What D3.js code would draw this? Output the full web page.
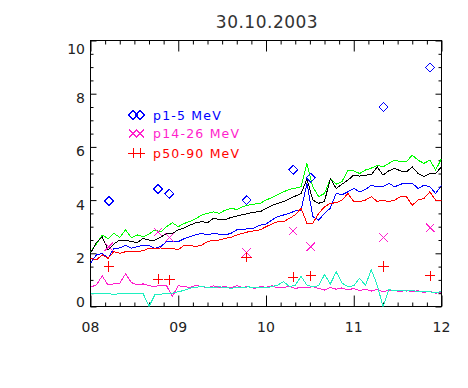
<!DOCTYPE html>
<html>
<head>
<meta charset="utf-8">
<script src="https://cdn.jsdelivr.net/npm/d3@7"></script>
<style>
  body { margin: 0; background: #fff; }
  svg { display: block; }
  text { font-family: "DejaVu Sans", sans-serif; }
</style>
</head>
<body>
<div id="chart"></div>
<script>
const title = "30.10.2003";

// time grid: minutes after 08:00
const minutes = [0,4,8,12,16,20,24,28,32,36,40,44,48,52,56,60,64,68,72,76,80,84,88,92,96,100,
  104,108,112,116,120,124,128,132,136,140,144,148,152,156,160,164,168,172,176,180,184,188,192,196,
  200,204,208,212,216,220,224,228,232,236,240];

const greenVals = [2.06,2.35,2.69,2.55,2.75,2.6,2.88,2.58,2.69,2.62,2.72,2.88,2.8,3.0,3.15,3.0,3.12,3.2,3.3,3.44,
  3.5,3.56,3.5,3.62,3.69,3.65,3.75,3.81,3.85,3.88,4.0,4.1,4.2,4.31,4.4,4.45,4.5,5.38,4.5,4.13,
  4.25,4.8,4.6,4.7,5.13,5.1,5.0,5.13,5.2,5.31,5.25,5.38,5.5,5.45,5.44,5.69,5.5,5.38,5.5,5.13,5.56];
const blackVals = [2.0,2.4,2.62,2.13,2.35,2.5,2.5,2.44,2.4,2.56,2.5,2.5,2.6,2.75,2.75,2.88,2.95,3.06,3.15,3.19,
  3.15,3.31,3.28,3.25,3.35,3.4,3.45,3.5,3.55,3.56,3.69,3.8,3.88,3.94,4.05,4.15,4.25,4.8,4.0,3.88,
  3.95,4.81,4.44,4.6,4.75,4.94,4.9,4.94,4.95,5.25,4.94,5.1,5.19,5.1,5.06,5.25,5.0,4.88,5.0,5.0,5.25];
const blueVals = [1.63,1.94,2.0,1.81,2.19,2.2,2.31,2.19,2.25,2.31,2.3,2.19,2.25,2.44,2.44,2.44,2.55,2.63,2.7,2.75,
  2.69,2.75,2.72,2.69,2.75,2.88,2.88,2.94,2.95,3.06,3.1,3.25,3.38,3.44,3.5,3.6,3.63,4.63,3.38,3.25,
  3.5,3.7,4.25,4.2,4.31,4.44,4.31,4.4,4.56,4.5,4.5,4.63,4.5,4.6,4.63,4.63,4.44,4.56,4.5,4.25,4.56];
const redVals = [1.81,1.75,1.94,1.81,2.06,2.0,2.06,2.06,2.06,2.1,2.19,2.19,2.2,2.19,2.19,2.13,2.31,2.3,2.25,2.31,
  2.44,2.5,2.5,2.56,2.6,2.69,2.75,2.81,2.85,2.88,3.0,3.1,3.19,3.19,3.31,3.45,3.69,3.13,3.13,3.5,
  3.75,3.88,3.9,4.0,4.25,3.94,3.94,4.0,4.13,3.95,4.0,3.94,4.0,4.13,4.13,3.81,4.0,4.06,4.31,4.0,4.0];
const magentaVals = [0.73,0.81,1.15,0.81,0.85,0.88,1.23,0.9,0.81,0.85,0.78,0.75,0.8,0.78,0.38,0.78,0.75,0.72,0.8,0.75,
  0.7,0.78,0.72,0.75,0.7,0.78,0.72,0.75,0.68,0.75,0.72,0.78,0.7,0.72,0.75,0.68,0.72,0.7,0.75,0.68,
  0.62,0.72,0.65,0.7,0.62,0.68,0.6,0.65,0.58,0.65,0.55,0.62,0.6,0.55,0.62,0.55,0.6,0.52,0.58,0.5,0.55];
const cyanVals = [0.48,0.47,0.49,0.48,0.46,0.48,0.49,0.47,0.48,0.48,0.0,0.44,0.46,0.5,0.5,0.56,0.6,0.69,0.72,0.75,
  0.72,0.7,0.74,0.72,0.68,0.72,0.7,0.74,0.7,0.72,0.7,0.75,0.8,0.94,0.75,0.8,1.13,0.8,0.75,0.78,
  1.2,0.85,1.3,0.88,0.75,0.78,1.06,0.8,1.38,0.81,0.0,0.63,0.6,0.62,0.58,0.6,0.56,0.58,0.55,0.52,0.56];

// event markers
const markTimes = [8.21,8.77,8.90,9.78,10.31,10.51,11.34,11.87];
const p1_5 = [3.97,4.42,4.24,4.0,5.14,4.84,7.5,8.98];
const p14_26 = [2.25,2.8,2.6,2.03,2.84,2.25,2.59,2.96];
const p50_90 = [1.5,1.03,1.0,1.85,1.1,1.15,1.5,1.15];

const legendLabels = ["p1-5 MeV", "p14-26 MeV", "p50-90 MeV"];
const xTicks = [8,9,10,11,12];
const xTickLabels = ["08","09","10","11","12"];
const yTicks = [0,2,4,6,8,10];

const width = 468, height = 388;
const L = 90.5, R = 441.5, T = 40.5, B = 306.5;

const x = d3.scaleLinear().domain([8,12]).range([L,R]);
const y = d3.scaleLinear().domain([0,10]).range([B,T]);

const svg = d3.select("#chart").append("svg")
  .attr("width", width).attr("height", height);
svg.append("rect").attr("width", width).attr("height", height).attr("fill", "#fff");

// title
svg.append("text").attr("x", 267).attr("y", 28)
  .attr("text-anchor", "middle").attr("font-size", 17).attr("fill", "#333")
  .attr("letter-spacing", 0.5)
  .text(title);

// axes: ticks only, the frame drawn separately
const xMinor = d3.range(8, 12.001, 1/6).filter(v => Math.abs(v - Math.round(v)) > 0.01);
const yMinor = d3.range(0, 10.001, 0.5).filter(v => Math.abs(v/2 - Math.round(v/2)) > 0.01);

const tickAxis = (axis, tx, ty) => {
  const g = svg.append("g").attr("transform", `translate(${tx},${ty})`).call(axis);
  g.select(".domain").remove();
  g.selectAll("line").attr("stroke", "#000");
  return g;
};
tickAxis(d3.axisBottom(x).tickValues(xTicks).tickSize(-11).tickFormat(""), 0, B);
tickAxis(d3.axisBottom(x).tickValues(xMinor).tickSize(-4).tickFormat(""), 0, B);
tickAxis(d3.axisTop(x).tickValues(xTicks).tickSize(-11).tickFormat(""), 0, T);
tickAxis(d3.axisTop(x).tickValues(xMinor).tickSize(-4).tickFormat(""), 0, T);
tickAxis(d3.axisLeft(y).tickValues(yTicks).tickSize(-6).tickFormat(""), L, 0);
tickAxis(d3.axisLeft(y).tickValues(yMinor).tickSize(-3).tickFormat(""), L, 0);
tickAxis(d3.axisRight(y).tickValues(yTicks).tickSize(-6).tickFormat(""), R, 0);
tickAxis(d3.axisRight(y).tickValues(yMinor).tickSize(-3).tickFormat(""), R, 0);

svg.append("rect").attr("x", L).attr("y", T).attr("width", R-L).attr("height", B-T)
  .attr("fill", "none").attr("stroke", "#000");

// tick labels
svg.append("g").selectAll("text").data(xTicks).join("text")
  .attr("x", d => x(d)).attr("y", 332)
  .attr("text-anchor", "middle").attr("font-size", 14).attr("fill", "#222")
  .text((d,i) => xTickLabels[i]);

svg.append("g").selectAll("text").data(yTicks).join("text")
  .attr("x", 85).attr("y", d => Math.max(49, Math.min(301.7, y(d) + 4.5)))
  .attr("dy", "0.36em")
  .attr("text-anchor", "end").attr("font-size", 14).attr("fill", "#222")
  .text(d => d);

// lines
const series = [
  {vals: greenVals, color: "#00ff00"},
  {vals: blackVals, color: "#000000"},
  {vals: blueVals, color: "#0000ff"},
  {vals: redVals, color: "#ff0000"},
  {vals: magentaVals, color: "#ff1ecc"},
  {vals: cyanVals, color: "#1ef0c0"}
];
const line = d3.line()
  .x((d,i) => x(8 + minutes[i]/60))
  .y(d => y(d));

svg.append("clipPath").attr("id", "clip")
  .append("rect").attr("x", L).attr("y", T).attr("width", R-L).attr("height", B-T);

const gl = svg.append("g").attr("clip-path", "url(#clip)");
gl.selectAll("path").data(series).join("path")
  .attr("d", d => line(d.vals))
  .attr("fill", "none")
  .attr("stroke", d => d.color)
  .attr("stroke-width", 1)
  .attr("shape-rendering", "crispEdges");

// symbols
const diamond = r => `M0,${-r}L${r},0L0,${r}L${-r},0Z`;
const cross = r => `M${-r},${-r}L${r},${r}M${-r},${r}L${r},${-r}`;
const plus = r => `M${-r},0L${r},0M0,${-r}L0,${r}`;

const symSets = [
  {vals: p1_5, color: "#0000ff", path: diamond(4.5)},
  {vals: p14_26, color: "#ff1ecc", path: cross(4.2)},
  {vals: p50_90, color: "#ff0000", path: plus(5.2)}
];
symSets.forEach(s => {
  svg.append("g").selectAll("path").data(s.vals).join("path")
    .attr("transform", (d,i) => `translate(${x(markTimes[i])},${y(d)})`)
    .attr("d", s.path)
    .attr("fill", "none").attr("stroke", s.color).attr("stroke-width", 1)
    .attr("shape-rendering", "crispEdges");
});

// legend
const legendY = [115, 133.5, 153];
symSets.forEach((s, i) => {
  const g = svg.append("g");
  [133, 140].forEach(cx => {
    g.append("path").attr("transform", `translate(${cx},${legendY[i]})`)
      .attr("d", s.path).attr("fill", "none").attr("stroke", s.color).attr("stroke-width", 1)
      .attr("shape-rendering", "crispEdges");
  });
  g.append("text").attr("x", 153).attr("y", legendY[i]).attr("dy", "0.36em")
    .attr("font-size", 12.5).attr("letter-spacing", 1.2).attr("fill", s.color)
    .text(legendLabels[i]);
});
</script>
</body>
</html>
